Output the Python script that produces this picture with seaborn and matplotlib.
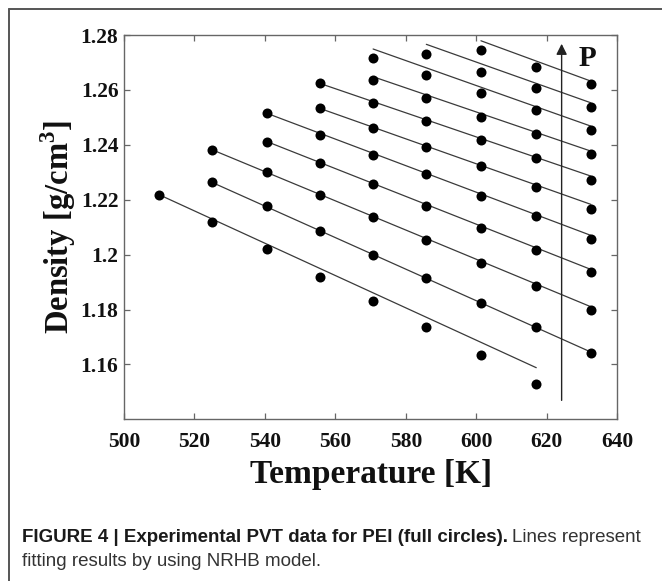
import numpy as np
import pandas as pd
import matplotlib
matplotlib.use("Agg")
import matplotlib.pyplot as plt
from matplotlib import font_manager
from matplotlib.lines import Line2D
import seaborn as sns

# ---------------- data ----------------
temps = [510, 525, 540.5, 555.5, 570.7, 585.8, 601.3, 617, 632.5]
nan = np.nan
iso1 = [1.2218, 1.2120, 1.2021, 1.1917, 1.1830, 1.1736, 1.1634, 1.1530, nan]
iso2 = [nan, 1.2263, 1.2178, 1.2085, 1.2000, 1.1915, 1.1824, 1.1736, 1.1640]
iso3 = [nan, 1.2382, 1.2302, 1.2218, 1.2137, 1.2052, 1.1970, 1.1885, 1.1799]
iso4 = [nan, nan, 1.2412, 1.2333, 1.2257, 1.2178, 1.2097, 1.2018, 1.1936]
iso5 = [nan, nan, 1.2515, 1.2437, 1.2364, 1.2292, 1.2212, 1.2139, 1.2058]
iso6 = [nan, nan, nan, 1.2533, 1.2461, 1.2393, 1.2321, 1.2245, 1.2166]
iso7 = [nan, nan, nan, 1.2624, 1.2554, 1.2487, 1.2416, 1.2352, 1.2270]
iso8 = [nan, nan, nan, nan, 1.2635, 1.2572, 1.2503, 1.2440, 1.2367]
iso9 = [nan, nan, nan, nan, 1.2715, 1.2653, 1.2589, 1.2525, 1.2455]
iso10 = [nan, nan, nan, nan, nan, 1.2731, 1.2667, 1.2606, 1.2537]
iso11 = [nan, nan, nan, nan, nan, nan, 1.2745, 1.2685, 1.2621]
isobars = [iso1, iso2, iso3, iso4, iso5, iso6, iso7, iso8, iso9, iso10, iso11]

# NRHB fit lines: start / end temperature and density per isobar
fit_t_start = [510, 525, 525, 540.5, 540.5, 555.5, 555.5, 570.7, 570.7, 585.8, 601.3]
fit_t_end = [617, 632.5, 632.5, 632.5, 632.5, 632.5, 632.5, 632.5, 632.5, 632.5, 632.5]
fit_rho_start = [1.2218, 1.2263, 1.2382, 1.2412, 1.2515, 1.2533, 1.2624, 1.2648, 1.2749, 1.2766, 1.2779]
fit_rho_end = [1.1588, 1.1645, 1.1810, 1.1946, 1.2070, 1.2183, 1.2286, 1.2377, 1.2468, 1.2553, 1.2632]

x_ticks = [500, 520, 540, 560, 580, 600, 620, 640]
y_ticks = [1.16, 1.18, 1.2, 1.22, 1.24, 1.26, 1.28]
y_tick_labels = ["1.16", "1.18", "1.2", "1.22", "1.24", "1.26", "1.28"]

# ---------------- frames ----------------
pts = []
for i, iso in enumerate(isobars):
    for t, r in zip(temps, iso):
        if not np.isnan(r):
            pts.append({"T": t, "rho": r, "iso": i})
pts = pd.DataFrame(pts)

fit = []
for i in range(len(fit_t_start)):
    fit.append({"T": fit_t_start[i], "rho": fit_rho_start[i], "iso": i})
    fit.append({"T": fit_t_end[i], "rho": fit_rho_end[i], "iso": i})
fit = pd.DataFrame(fit)

# ---------------- style ----------------
sns.set_theme(style="white")
serif = "Liberation Serif"
plt.rcParams["font.family"] = [serif, "DejaVu Serif"]
plt.rcParams["mathtext.fontset"] = "custom"
plt.rcParams["mathtext.rm"] = "Liberation Serif"
plt.rcParams["mathtext.bf"] = "Liberation Serif:bold"

W, H = 662, 581
fig = plt.figure(figsize=(W / 100, H / 100), dpi=100)
fig.patch.set_facecolor("white")
ax = fig.add_axes([124 / W, 1 - 419.3 / H, (617.3 - 124) / W, (419.3 - 35) / H])

sns.lineplot(data=fit, x="T", y="rho", units="iso", estimator=None,
             color="#3a3a3a", linewidth=0.9, ax=ax, legend=False, zorder=2)
sns.scatterplot(data=pts, x="T", y="rho", color="black", s=52,
                edgecolor="black", linewidth=0, ax=ax, legend=False, zorder=3)

ax.set_xlim(500, 640)
ax.set_ylim(1.14, 1.28)
ax.set_xticks(x_ticks)
ax.set_xticklabels([str(v) for v in x_ticks])
ax.set_yticks(y_ticks)
ax.set_yticklabels(y_tick_labels)
for sp in ax.spines.values():
    sp.set_color("#666666")
    sp.set_linewidth(1.0)
    sp.set_visible(True)
ax.tick_params(axis="both", which="both", direction="in", length=4, width=0.9,
               color="#666666", top=True, right=True, bottom=True, left=True,
               labelsize=15.5, labelcolor="#111111")
for lab in ax.get_xticklabels() + ax.get_yticklabels():
    lab.set_fontweight("bold")
ax.tick_params(axis="x", pad=9)
ax.tick_params(axis="y", pad=4)

ax.set_xlabel("Temperature [K]", fontsize=24, fontweight="bold", color="#111111", labelpad=5)
ax.set_ylabel(r"Density [g/cm$^{\mathbf{3}}$]", fontsize=23.5, fontweight="bold",
              color="#111111", labelpad=2)

# pressure arrow
arrow_T = 624.2
ax.annotate("", xy=(arrow_T, 1.2768), xytext=(arrow_T, 1.1469),
            arrowprops=dict(arrowstyle="-|>", color="#222222", lw=1.0,
                            mutation_scale=16, shrinkA=0, shrinkB=0), zorder=4)
ax.text(631.6, 1.2716, "P", fontsize=21, fontweight="bold", ha="center", va="center",
        color="#111111")

# outer frame (left/top border of the figure panel)
fig.add_artist(Line2D([9 / W, 9 / W], [0, 1 - 9 / H], transform=fig.transFigure,
                      color="#555555", lw=1.4))
fig.add_artist(Line2D([9 / W, 1], [1 - 9 / H, 1 - 9 / H], transform=fig.transFigure,
                      color="#555555", lw=1.4))

# caption
avail = {f.name for f in font_manager.fontManager.ttflist}
cap_font = "Liberation Sans Narrow" if "Liberation Sans Narrow" in avail else "Liberation Sans"
cap_size = 13.5
t1 = fig.text(22 / W, 1 - 537 / H, "FIGURE 4 | Experimental PVT data for PEI (full circles).",
              family=cap_font, fontsize=cap_size, fontweight="bold", va="center", ha="left",
              color="#1a1a1a")
fig.canvas.draw()
bb = t1.get_window_extent()
fig.text((bb.x1 + 4) / W, 1 - 537 / H, "Lines represent", family=cap_font,
         fontsize=cap_size, va="center", ha="left", color="#333333")
fig.text(22 / W, 1 - 562 / H, "fitting results by using NRHB model.", family=cap_font,
         fontsize=cap_size, va="center", ha="left", color="#333333")

fig.savefig("out.png", dpi=100, facecolor="white")
